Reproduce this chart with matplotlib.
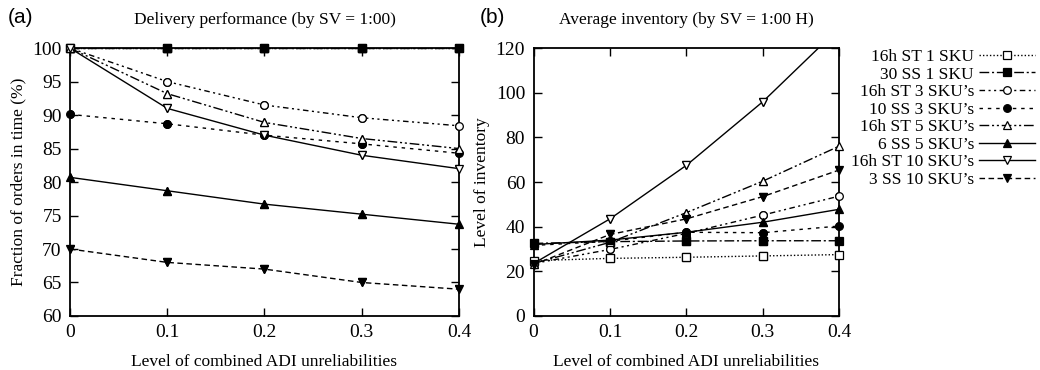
import matplotlib
matplotlib.use("Agg")
import matplotlib.pyplot as plt
import numpy as np

plt.rcParams['font.family'] = ['Liberation Serif', 'DejaVu Serif']

# data
x = [0, 0.1, 0.2, 0.3, 0.4]
labels = ["16h ST 1 SKU", "30 SS 1 SKU", "16h ST 3 SKU\u2019s", "10 SS 3 SKU\u2019s",
          "16h ST 5 SKU\u2019s", "6 SS 5 SKU\u2019s", "16h ST 10 SKU\u2019s", "3 SS 10 SKU\u2019s"]

delivery = [
    [100, 100, 100, 100, 100],
    [100, 100, 100, 100, 100],
    [100, 95.0, 91.5, 89.6, 88.4],
    [90.1, 88.7, 87.0, 85.7, 84.3],
    [100, 93.2, 88.9, 86.5, 85.0],
    [80.7, 78.7, 76.7, 75.2, 73.7],
    [100, 91.0, 87.0, 84.0, 82.0],
    [70.0, 68.0, 67.0, 65.0, 64.0],
]

inventory = [
    [24.8, 25.8, 26.3, 26.9, 27.5],
    [32.5, 33.3, 33.6, 33.7, 33.7],
    [23.5, 29.8, 37.0, 45.2, 53.7],
    [31.6, 33.5, 37.5, 37.3, 40.3],
    [23.5, 33.0, 46.3, 60.4, 76.1],
    [32.0, 34.0, 37.5, 42.0, 47.8],
    [23.5, 43.5, 67.5, 96.0, 129.0],
    [23.0, 36.5, 43.5, 53.5, 65.4],
]

styles = [
    dict(ls=(0, (1, 1.5)), marker='s', mfc='white'),
    dict(ls=(0, (7, 2, 1.5, 2)), marker='s', mfc='black'),
    dict(ls=(0, (4, 2.5, 1.5, 2.5, 1.5, 2.5)), marker='o', mfc='white'),
    dict(ls=(0, (2.5, 3.5)), marker='o', mfc='black'),
    dict(ls=(0, (7, 2, 1.5, 2, 1.5, 2)), marker='^', mfc='white'),
    dict(ls='-', marker='^', mfc='black'),
    dict(ls='-', marker='v', mfc='white'),
    dict(ls=(0, (4, 2.5)), marker='v', mfc='black'),
]

fig = plt.figure(figsize=(10.4, 3.7), dpi=100)
ax1 = fig.add_axes([0.0673, 0.146, 0.374, 0.724])
ax2 = fig.add_axes([0.513, 0.146, 0.294, 0.724])
ax1.set_ylim(60, 100)
ax2.set_ylim(0, 120)

for ax, data in ((ax1, delivery), (ax2, inventory)):
    lo, hi = ax.get_ylim()
    for lab, y, st in zip(labels, data, styles):
        ax.plot(x, y, color='black', lw=1.0, ls=st['ls'], marker=st['marker'],
                mfc=st['mfc'], mec='black', ms=5.5, mew=0.9, label=lab)
        # markers drawn again unclipped so they sit over the frame like the original
        yy = np.array(y, dtype=float)
        yy[(yy < lo) | (yy > hi)] = np.nan
        ax.plot(x, yy, ls='none', marker=st['marker'], mfc=st['mfc'], mec='black',
                ms=5.5, mew=0.9, clip_on=False, zorder=3)
    ax.set_xlim(0, 0.4)
    ax.set_xticks(x)
    ax.set_xticklabels(['0', '0.1', '0.2', '0.3', '0.4'])
    ax.tick_params(direction='in', top=True, right=True, length=6, width=1,
                   labelsize=14, pad=6)
    for s in ax.spines.values():
        s.set_linewidth(1.3)
    ax.set_xlabel('Level of combined ADI unreliabilities', fontsize=12.5, labelpad=9)

ax1.set_yticks(range(60, 101, 5))
ax1.set_ylabel('Fraction of orders in time (%)', fontsize=12.5, labelpad=4)
ax1.set_title('Delivery performance (by SV = 1:00)', fontsize=12.5, pad=17)

ax2.set_yticks(range(0, 121, 20))
ax2.set_ylabel('Level of inventory', fontsize=12.5, labelpad=4)
ax2.set_title('Average inventory (by SV = 1:00 H)', fontsize=12.5, pad=17)

fig.text(0.007, 0.952, '(a)', fontsize=15, family='Liberation Sans', va='center')
fig.text(0.461, 0.952, '(b)', fontsize=15, family='Liberation Sans', va='center')

h, l = ax2.get_legend_handles_labels()
fig.legend(h, l, loc='upper right', bbox_to_anchor=(1.0, 0.882), markerfirst=False,
           frameon=False, fontsize=12.5, handlelength=3.2, handletextpad=0.3,
           labelspacing=0.08, borderpad=0.1, borderaxespad=0.2)

fig.savefig('out.png', dpi=100)
